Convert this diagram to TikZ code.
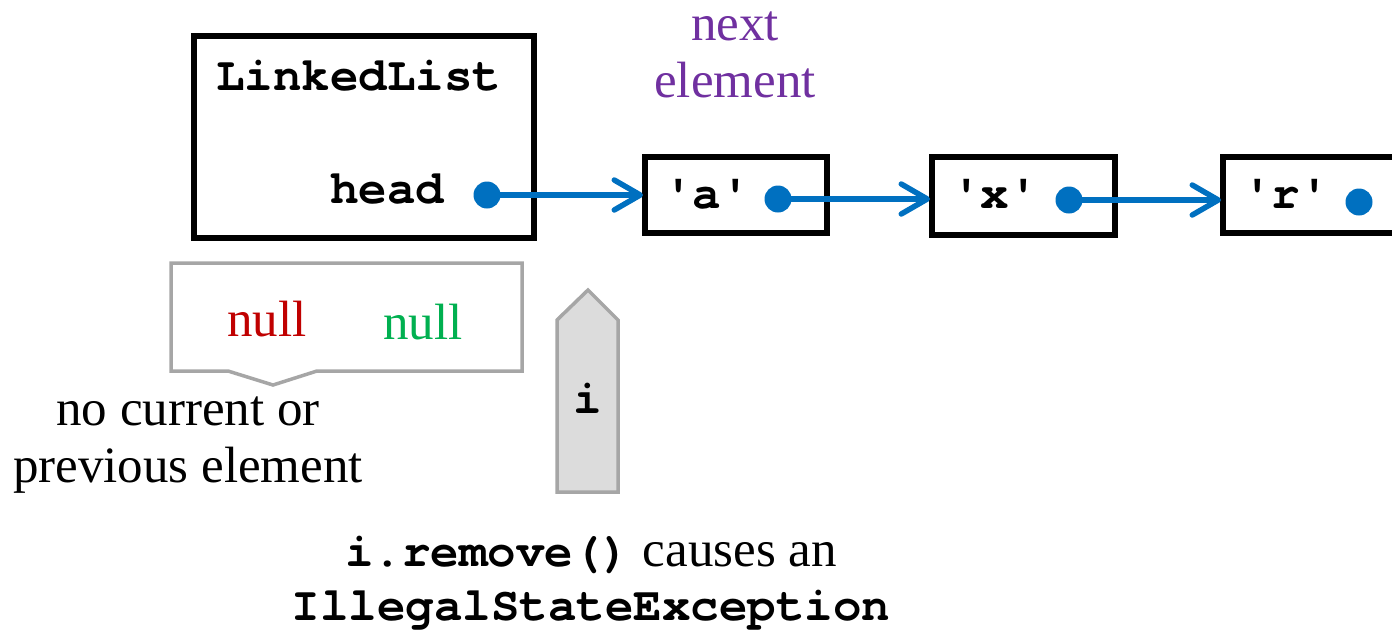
\documentclass[tikz,border=0pt]{standalone}
\usepackage{fontspec}
\setmainfont{Liberation Serif}
\setmonofont{TeX Gyre Cursor}
\usetikzlibrary{arrows.meta}
\definecolor{ptrblue}{HTML}{0070C0}
\definecolor{notepurple}{HTML}{7030A0}
\definecolor{nullred}{HTML}{C00000}
\definecolor{nullgreen}{HTML}{00B050}
\definecolor{edgegray}{HTML}{A6A6A6}
\definecolor{itergray}{HTML}{DCDCDC}
\begin{document}
\begin{tikzpicture}[x=1pt,y=-1pt,
  every node/.style={inner sep=0pt,outer sep=0pt},
  txt/.style={font=\fontsize{51}{57}\selectfont},
  code/.style={font=\fontsize{47.5}{57}\selectfont\ttfamily\bfseries},
  cell/.style={draw=black,line width=5.5pt,fill=white},
  ptrdot/.style={circle,fill=ptrblue,minimum size=27pt},
  ptr/.style={draw=ptrblue,line width=5.5pt,line cap=round,
    -{Straight Barb[length=26pt,width=30pt,line cap=round,line join=round]}},
  bubble/.style={draw=edgegray,line width=3.5pt,fill=white,line join=miter},
  iter/.style={draw=edgegray,line width=3.5pt,fill=itergray,line join=miter}]
\clip (0,0) rectangle (1392,630);

% list object and its nodes
\node[cell,minimum width=340pt,minimum height=202pt] (list) at (364,137) {};
\node[code,anchor=base west] (lname) at (216,90) {LinkedList};
\node[code,anchor=base west] (headlbl) at (330,203) {head};
\node[cell,minimum width=182pt,minimum height=76pt] (ca) at (736,195) {};
\node[cell,minimum width=183pt,minimum height=78pt] (cx) at (1023.5,196) {};
\node[cell,minimum width=260pt,minimum height=76pt] (cr) at (1353,195) {};
\node[code,anchor=base] (va) at (707,208) {'a'};
\node[code,anchor=base] (vx) at (995,208) {'x'};
\node[code,anchor=base] (vr) at (1286,208) {'r'};

% pointers
\node[ptrdot] (dh) at (487,195) {};
\node[ptrdot] (da) at (778,199) {};
\node[ptrdot] (dx) at (1069,200) {};
\node[ptrdot] (dr) at (1359,202) {};
\draw[ptr] (dh.center) -- ([xshift=-2pt]dh.center -| ca.west);
\draw[ptr] (da.center) -- ([xshift=-2pt]da.center -| cx.west);
\draw[ptr] (dx.center) -- ([xshift=-2pt]dx.center -| cr.west);

% label above the first element
\node[txt,text=notepurple,anchor=base] (nxt1) at (735,40) {next};
\node[txt,text=notepurple,anchor=base] (nxt2) at (735,97) {element};

% iterator state bubble
\draw[bubble] (171,263) -- (522,263) -- (522,371) -- (317,371) -- (273,385)
  -- (228,371) -- (171,371) -- cycle;
\node[txt,text=nullred,anchor=base] (prevnull) at (267,336) {null};
\node[txt,text=nullgreen,anchor=base] (curnull) at (423,339) {null};
\node[txt,anchor=base] (note1) at (188,425) {no current or};
\node[txt,anchor=base] (note2) at (188,482) {previous element};

% iterator marker
\draw[iter] (557,492) -- (557,320) -- (588,290) -- (618,320) -- (618,492) -- cycle;
\node[code,anchor=base] (itname) at (588,413) {i};

% caption
\node[txt,anchor=base] (cap1) at (591,566) {{\ttfamily\bfseries\fontsize{47.5}{57}\selectfont i.remove()} causes an};
\node[code,anchor=base] (cap2) at (591,620) {IllegalStateException};
\end{tikzpicture}
\end{document}
